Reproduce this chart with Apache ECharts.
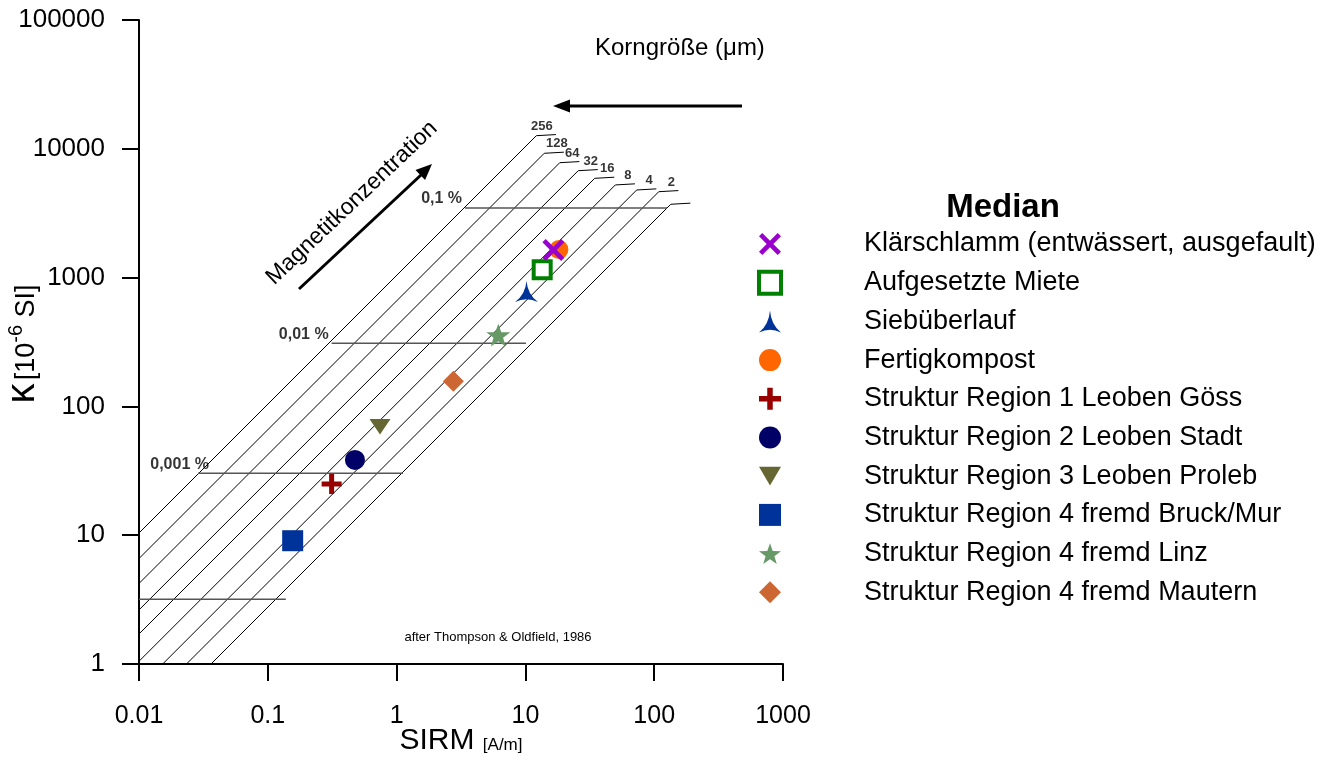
<!DOCTYPE html>
<html><head><meta charset="utf-8">
<script src="https://cdn.jsdelivr.net/npm/echarts@6/dist/echarts.min.js"></script>
<style>html,body{margin:0;padding:0;background:#fff}#c{width:1336px;height:760px}</style>
</head><body><div id="c"></div>
<script>
// ---------- data ----------
const sampleNames = [
  'Klärschlamm (entwässert, ausgefault)',
  'Aufgesetzte Miete',
  'Siebüberlauf',
  'Fertigkompost',
  'Struktur Region 1 Leoben Göss',
  'Struktur Region 2 Leoben Stadt',
  'Struktur Region 3 Leoben Proleb',
  'Struktur Region 4 fremd Bruck/Mur',
  'Struktur Region 4 fremd Linz',
  'Struktur Region 4 fremd Mautern'
];
const sampleSirm  = [16.5, 13.5, 10.2, 18.2, 0.313, 0.475, 0.743, 0.156, 6.16, 2.76];
const sampleKappa = [1640, 1150, 780, 1650, 25.0, 38.4, 69.5, 9.06, 358, 157];

const grainLabels   = ['256', '128', '64', '32', '16', '8', '4', '2', ''];
const grainRatio    = [1040, 659, 422, 263, 171, 105, 65.5, 42.8, 27.6];      // kappa / SIRM along each grain-size line
const grainTopKappa = [12640, 9230, 7800, 6760, 5900, 5240, 4790, 4645, 3710];

const concLabels     = ['0,1 %', '0,01 %', '0,001 %', ''];
const concKappa      = [3470, 309, 30.3, 3.18];
const concStartSirm  = [3.40, 0.313, 0.0287, 0.01];
const concEndSirm    = [125.7, 10.1, 1.12, 0.138];

const xTickLabels = ['0.01', '0.1', '1', '10', '100', '1000'];
const yTickLabels = ['1', '10', '100', '1000', '10000', '100000'];

// ---------- styles ----------
const FONT = "'Liberation Sans', Arial, sans-serif";
const X_MIN = 0.01, Y_MIN = 1;
const LEADER_X = 1.42, LEADER_Y = 1.02;
const grainLabelShift = [-7, 0, 0, 0, 0, 0, 0, 0, 0];   // px
const concLabelShift  = [0, 0, 14, 0];                  // px

const symbols = [
  'path://M3,0 L10,7 L17,0 L20,3 L13,10 L20,17 L17,20 L10,13 L3,20 L0,17 L7,10 L0,3 Z',
  'rect',
  'path://M10,0 Q11,13 20,20 Q10,15 0,20 Q9,13 10,0 Z',
  'circle',
  'path://M7.5,0 H12.5 V7.5 H20 V12.5 H12.5 V20 H7.5 V12.5 H0 V7.5 H7.5 Z',
  'circle',
  'path://M0,0 L20,0 L10,17 Z',
  'rect',
  'path://M10,0 L12.35,6.76 L19.51,6.91 L13.8,11.24 L15.88,18.09 L10,14 L4.12,18.09 L6.2,11.24 L0.49,6.91 L7.65,6.76 Z',
  'diamond'
];
const colors = ['#9900CC', '#FFFFFF', '#003399', '#FF6600', '#990000', '#000066', '#666633', '#003399', '#669966', '#CC6633'];
const sizes = [22, 17, [23, 21], 19, 20, 20, [21, 18], 21, 24, 21];

const series = [];

// grain-size diagonal lines
grainRatio.forEach((r, i) => {
  const topK = grainTopKappa[i];
  const topS = topK / r;
  const start = (X_MIN * r >= Y_MIN) ? [X_MIN, X_MIN * r] : [Y_MIN / r, Y_MIN];
  series.push({
    type: 'line', silent: true, symbol: 'none', animation: false, z: 1,
    lineStyle: { color: '#000', width: 1 },
    data: [start, [topS, topK], [topS * LEADER_X, topK * LEADER_Y]]
  });
});
series.push({
  type: 'scatter', silent: true, animation: false, symbolSize: 0, z: 1,
  data: grainRatio.map((r, i) => ({
    value: [grainTopKappa[i] / r * Math.sqrt(LEADER_X) * 1.05, grainTopKappa[i] * LEADER_Y],
    label: { offset: [grainLabelShift[i], 0] }
  })),
  label: { show: true, position: 'top', distance: 2, formatter: p => grainLabels[p.dataIndex],
           fontFamily: FONT, fontWeight: 'bold', fontSize: 13, color: '#000' }
});

// concentration lines
concKappa.forEach((k, i) => {
  series.push({
    type: 'line', silent: true, symbol: 'none', animation: false, z: 1,
    lineStyle: { color: '#555', width: 1.4 },
    data: [[concStartSirm[i], k], [concEndSirm[i], k]]
  });
});
series.push({
  type: 'scatter', silent: true, animation: false, symbolSize: 0, z: 1,
  data: concKappa.map((k, i) => ({ value: [concStartSirm[i], k], label: { offset: [concLabelShift[i], -9] } })),
  label: { show: true, position: 'left', distance: 3, formatter: p => concLabels[p.dataIndex],
           fontFamily: FONT, fontWeight: 'bold', fontSize: 16, color: '#000' }
});

// sample medians
sampleNames.forEach((name, i) => {
  const s = {
    type: 'scatter', name: name, animation: false, z: i === 0 ? 6 : 3,
    symbol: symbols[i], symbolSize: sizes[i], symbolKeepAspect: true,
    itemStyle: { color: colors[i], opacity: 1 },
    data: [[sampleSirm[i], sampleKappa[i]]]
  };
  if (i === 1) s.itemStyle = { color: '#FFFFFF', borderColor: '#008000', borderWidth: 4, opacity: 1 };
  series.push(s);
});

const chart = echarts.init(document.getElementById('c'), null, { renderer: 'canvas' });

const axisCommon = {
  type: 'log', logBase: 10,
  axisLine: { show: true, lineStyle: { color: '#000', width: 2 } },
  axisTick: { show: true, length: 17, lineStyle: { color: '#000', width: 2 } },
  minorTick: { show: false },
  splitLine: { show: false },
  nameMoveOverlap: false
};

chart.setOption({
  animation: false,
  backgroundColor: '#fff',
  grid: { left: 139, right: 553, top: 20, bottom: 96, containLabel: false, outerBoundsMode: 'none' },
  xAxis: Object.assign({}, axisCommon, {
    min: 0.01, max: 1000,
    axisLabel: { fontFamily: FONT, fontSize: 25, color: '#000', margin: 40,
                 formatter: v => xTickLabels[Math.round(Math.log10(v)) + 2] },
    name: '{a|SIRM }{b|[A/m]}', nameLocation: 'middle', nameGap: 62,
    nameTextStyle: { rich: {
      a: { fontFamily: FONT, fontSize: 30, color: '#000', lineHeight: 30, verticalAlign: 'bottom' },
      b: { fontFamily: FONT, fontSize: 17, color: '#000', lineHeight: 30, verticalAlign: 'bottom', padding: [0, 0, 2, 0] }
    } }
  }),
  yAxis: Object.assign({}, axisCommon, {
    min: 1, max: 100000,
    axisLabel: { fontFamily: FONT, fontSize: 26, color: '#000', margin: 34,
                 formatter: v => yTickLabels[Math.round(Math.log10(v))] },
    name: '{k|κ} {s|[10}{sup|-6}{s| SI]}', nameLocation: 'middle', nameRotate: 90, nameGap: 96,
    nameTextStyle: { padding: [0, 4, 0, 0], rich: {
      k: { fontFamily: FONT, fontSize: 40, color: '#000', lineHeight: 40, verticalAlign: 'bottom' },
      s: { fontFamily: FONT, fontSize: 27, color: '#000', lineHeight: 40, verticalAlign: 'bottom', padding: [0, 0, 3, 0] },
      sup: { fontFamily: FONT, fontSize: 20, color: '#000', lineHeight: 40, verticalAlign: 'bottom', padding: [0, 0, 17, 0] }
    } }
  }),
  legend: {
    orient: 'vertical', left: 757, top: 230.5, padding: 0, itemWidth: 22, itemHeight: 22, itemGap: 11.7,
    selectedMode: false,
    data: sampleNames.map((n, i) => i === 1 ? { name: n, itemStyle: { borderWidth: 4 } } : { name: n }),
    textStyle: { fontFamily: FONT, fontSize: 27, color: '#000', lineHeight: 27, padding: [0, 0, 0, 78] }
  },
  graphic: [
    { type: 'text', x: 1003, y: 208, style: { text: 'Median', font: "bold 33px 'Liberation Sans', Arial, sans-serif", fill: '#000', align: 'center', verticalAlign: 'middle' } },
    { type: 'text', x: 595, y: 48, style: { text: 'Korngröße (μm)', font: "24px 'Liberation Sans', Arial, sans-serif", fill: '#000', align: 'left', verticalAlign: 'middle' } },
    { type: 'line', shape: { x1: 566, y1: 106, x2: 742, y2: 106 }, style: { stroke: '#000', lineWidth: 3 } },
    { type: 'polygon', shape: { points: [[553, 106], [570, 99.5], [570, 112.5]] }, style: { fill: '#000' } },
    { type: 'text', x: 352, y: 203, rotation: 0.76, style: { text: 'Magnetitkonzentration', font: "23px 'Liberation Sans', Arial, sans-serif", fill: '#000', align: 'center', verticalAlign: 'middle' } },
    { type: 'line', shape: { x1: 299, y1: 289, x2: 421, y2: 175 }, style: { stroke: '#000', lineWidth: 3 } },
    { type: 'polygon', shape: { points: [[432, 164], [425.1, 180.1], [415.5, 169.9]] }, style: { fill: '#000' } },
    { type: 'text', x: 498, y: 637, style: { text: 'after Thompson & Oldfield, 1986', font: "13px 'Liberation Sans', Arial, sans-serif", fill: '#000', align: 'center', verticalAlign: 'middle' } }
  ],
  series: series
});
</script>
</body></html>
